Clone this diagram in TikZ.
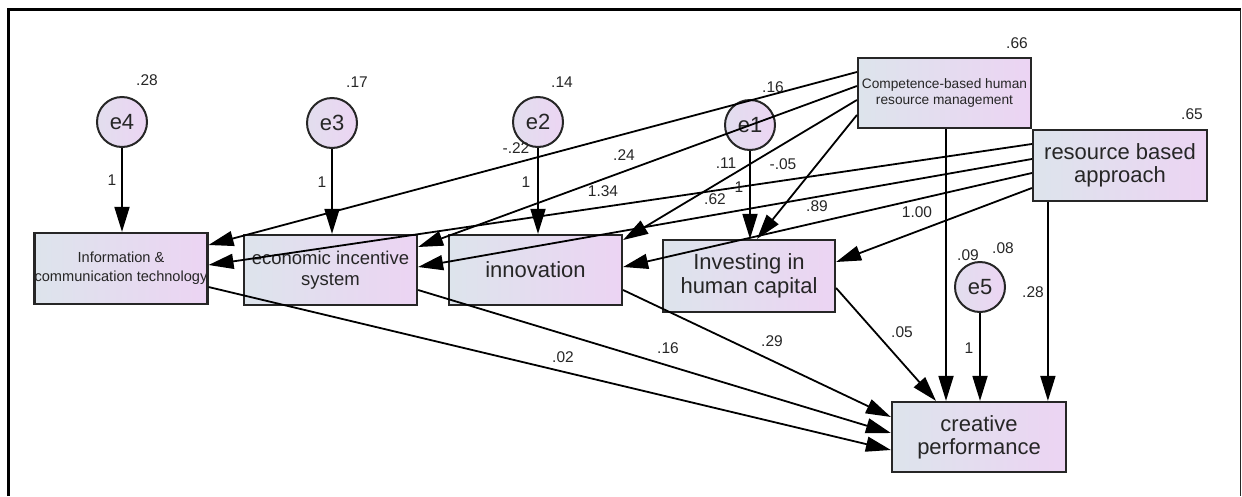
\documentclass[tikz,border=0pt]{standalone}
\usepackage{fontspec}
\setmainfont{Liberation Sans}
\usetikzlibrary{arrows.meta,calc}
\definecolor{boxL}{RGB}{221,228,236}
\definecolor{boxR}{RGB}{236,212,243}
\definecolor{errL}{RGB}{226,222,238}
\definecolor{errR}{RGB}{236,213,243}
\definecolor{ink}{RGB}{38,38,38}
\begin{document}
\begin{tikzpicture}[x=1pt,y=-1pt,
  box/.style={draw=ink, line width=2.2pt, left color=boxL, right color=boxR,
    inner sep=0pt, align=center, text=ink},
  err/.style={circle, draw=ink, line width=2pt, left color=errL, right color=errR,
    minimum size=50pt, inner sep=0pt, font=\fontsize{22}{24}\selectfont, text=ink},
  arr/.style={line width=1.8pt, draw=black, -{Triangle[length=25pt,width=15pt]}},
  lab/.style={font=\fontsize{15.5}{17}\selectfont, text=ink, inner sep=0pt},
  big/.style={font=\fontsize{22}{24}\selectfont},
]
\useasboundingbox (0,0) rectangle (1242,496);
% frame
\draw[line width=3.4pt] (8.7,496) -- (8.7,9.5) -- (1241,9.5);
\draw[line width=1.3pt, ink] (1240.5,9.5) -- (1240.5,496);

% boxes
\node[box, minimum width=172pt, minimum height=71pt, font=\fontsize{14.6}{19}\selectfont] (ict) at (121,268.5) {Information \&\\communication technology};
\node[box, minimum width=173pt, minimum height=70pt, font=\fontsize{18.5}{21}\selectfont] (eco) at (330.5,270) {economic incentive\\system};
\node[box, minimum width=173pt, minimum height=70pt, big] (inn) at (535.5,270) {innovation};
\node[box, minimum width=172pt, minimum height=72pt, big] (inv) at (749,276) {Investing in\\human capital};
\node[box, minimum width=173pt, minimum height=70pt, font=\fontsize{13.7}{15.5}\selectfont] (cb) at (944.5,93) {Competence-based human\\resource management};
\node[box, minimum width=174pt, minimum height=71pt, font=\fontsize{22}{23.5}\selectfont] (rba) at (1120,165.5) {resource based\\approach};
\node[box, minimum width=174pt, minimum height=70pt, font=\fontsize{22}{23}\selectfont] (cp) at (979,437) {creative\\performance};

% error terms
\node[err] (e4) at (122,122) {e4};
\node[err] (e3) at (332,123) {e3};
\node[err] (e2) at (538,122) {e2};
\node[err] (e1) at (750,125) {e1};
\node[err] (e5) at (980,287) {e5};

% error arrows
\draw[arr] (e4.south) -- (e4.south |- ict.north);
\draw[arr] (e3.south) -- (e3.south |- eco.north);
\draw[arr] (e2.south) -- (e2.south |- inn.north);
\draw[arr] (e1.south) -- (e1.south |- inv.north);
\draw[arr] (e5.south) -- (e5.south |- cp.north);

% competence-based HRM paths (yshift is in page units: positive = up)
\draw[arr] ([yshift=21pt]cb.west) -- ([yshift=23.5pt]ict.east);
\draw[arr] ([yshift=7pt]cb.west) -- ([yshift=23pt]eco.east);
\draw[arr] ([yshift=-7pt]cb.west) -- ([yshift=30pt]inn.east);
\draw[arr] ([yshift=-22pt]cb.west) -- ([xshift=8pt]inv.north);
\draw[arr] ([xshift=1.5pt]cb.south) -- ([xshift=1.5pt]cb.south |- cp.north);

% resource based approach paths
\draw[arr] ([yshift=21.5pt]rba.west) -- ([yshift=3.5pt]ict.east);
\draw[arr] ([yshift=6.5pt]rba.west) -- ([yshift=3pt]eco.east);
\draw[arr] ([yshift=-7.5pt]rba.west) -- ([yshift=3pt]inn.east);
\draw[arr] ([yshift=-22.5pt]rba.west) -- ([yshift=14pt]inv.east);
\draw[arr] ([xshift=16pt]rba.south west) -- ([xshift=16pt]rba.south west |- cp.north);

% mediators to creative performance
\draw[arr] ([yshift=-18.5pt]ict.east) -- ([yshift=-13pt]cp.west);
\draw[arr] ([yshift=-20pt]eco.east) -- ([yshift=4pt]cp.west);
\draw[arr] ([yshift=-20pt]inn.east) -- ([yshift=20pt]cp.west);
\draw[arr] ([yshift=-12pt]inv.east) -- ([xshift=-43pt]cp.north);

% labels
\node[lab] (l1) at (147,80) {.28};
\node[lab] (l2) at (357,82) {.17};
\node[lab] (l3) at (562,82) {.14};
\node[lab] (l4) at (773,87) {.16};
\node[lab] (l5) at (1017,43) {.66};
\node[lab] (l6) at (1192,114) {.65};
\node[lab] (l7) at (968,255) {.09};
\node[lab] (l8) at (1003,248) {.08};
\node[lab] (l9) at (1033,292) {.28};
\node[lab] (o1) at (112,180) {1};
\node[lab] (o2) at (322,182) {1};
\node[lab] (o3) at (526,182) {1};
\node[lab] (o4) at (739,187) {1};
\node[lab] (o5) at (969,348) {1};
\node[lab] (c1) at (516,148) {-.22};
\node[lab] (c2) at (624,155) {.24};
\node[lab] (c3) at (603,191) {1.34};
\node[lab] (c4) at (726,163) {.11};
\node[lab] (c5) at (783,164) {-.05};
\node[lab] (c6) at (715,199) {.62};
\node[lab] (c7) at (817,206) {.89};
\node[lab] (c8) at (917,212) {1.00};
\node[lab] (c9) at (563,357) {.02};
\node[lab] (c10) at (668,348) {.16};
\node[lab] (c11) at (772,341) {.29};
\node[lab] (c12) at (902,332) {.05};
\end{tikzpicture}
\end{document}
